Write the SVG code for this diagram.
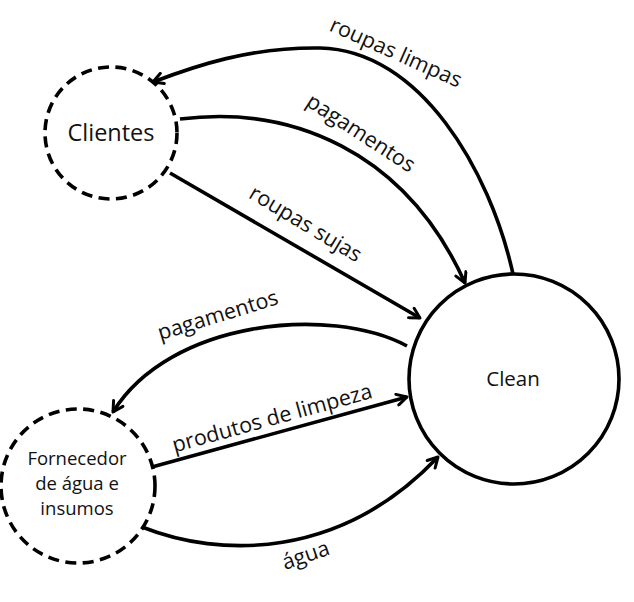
<svg xmlns="http://www.w3.org/2000/svg" width="634" height="602" viewBox="0 0 634 602">
<style>
.bg{fill:#fff}
.ext{fill:#fff;stroke:#000;stroke-width:3.6;stroke-dasharray:11 6.5}
.proc{fill:#fff;stroke:#000;stroke-width:3.6}
.edge{fill:none;stroke:#000;stroke-width:3.6;marker-end:url(#arr)}
.node{font-family:"Open Sans","Noto Sans",sans-serif;fill:#111;text-anchor:middle}
.lbl{font-family:"Open Sans","Noto Sans",sans-serif;font-size:21.5px;fill:#111;text-anchor:middle}
</style>
<defs>
<marker id="arr" viewBox="0 0 14 14" refX="12" refY="7" markerWidth="14" markerHeight="14" markerUnits="userSpaceOnUse" orient="auto">
<path d="M2,1.5 L12,7 L2,12.5" fill="none" stroke="#000" stroke-width="3" stroke-linecap="round" stroke-linejoin="round"/>
</marker>
</defs>
<rect class="bg" x="0" y="0" width="634" height="602"/>
<g id="connectors">
<path class="edge" d="M513,274 C490,170 420,50 320,48 C250,47 195,66 153,82"/>
<path class="edge" d="M180,119 C290,105 405,150 465,283"/>
<path class="edge" d="M170,173 L420,318"/>
<path class="edge" d="M407,346 C330,305 170,320 113,412"/>
<path class="edge" d="M152,467 L407,397"/>
<path class="edge" d="M142,527 C220,558 340,560 438,457"/>
<text class="lbl" transform="translate(393,59) rotate(24)">roupas limpas</text>
<text class="lbl" transform="translate(357,139) rotate(33)">pagamentos</text>
<text class="lbl" transform="translate(302,230) rotate(31)">roupas sujas</text>
<text class="lbl" transform="translate(220,322) rotate(-17)">pagamentos</text>
<text class="lbl" transform="translate(274,425) rotate(-15.4)">produtos de limpeza</text>
<text class="lbl" transform="translate(308,562) rotate(-19)">água</text>
</g>
<g id="clientes">
<circle class="ext" cx="111" cy="133" r="66"/>
<text class="node" x="111" y="141" font-size="23.5">Clientes</text>
</g>
<g id="clean">
<circle class="proc" cx="514" cy="379" r="105"/>
<text class="node" x="513" y="386" font-size="20.5">Clean</text>
</g>
<g id="fornecedor">
<circle class="ext" cx="78" cy="486" r="77"/>
<text class="node" x="77" y="465" font-size="18.5">Fornecedor</text>
<text class="node" x="77" y="490" font-size="18.5">de água e</text>
<text class="node" x="77" y="515" font-size="18.5">insumos</text>
</g>
</svg>
